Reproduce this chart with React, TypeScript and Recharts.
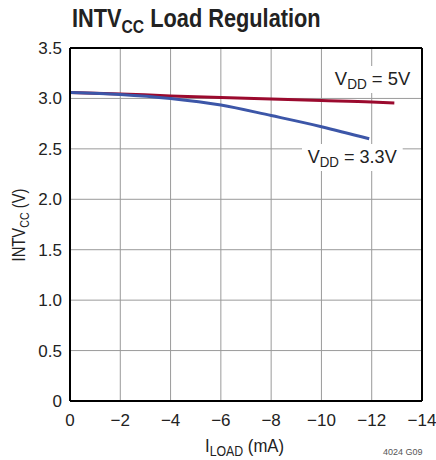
import {
  LineChart,
  Line,
  XAxis,
  YAxis,
  CartesianGrid,
  ReferenceLine,
} from "recharts"

const xTicks = [0, -2, -4, -6, -8, -10, -12, -14]
const yTicks = [0, 0.5, 1, 1.5, 2, 2.5, 3, 3.5]

const loadVdd5 = [0, -2, -4, -6, -8, -10, -12, -12.9]
const voutVdd5 = [3.06, 3.045, 3.025, 3.01, 2.995, 2.98, 2.965, 2.955]

const loadVdd33 = [0, -2, -4, -6, -8, -10, -11.9]
const voutVdd33 = [3.06, 3.04, 3.0, 2.935, 2.83, 2.72, 2.6]

const vdd5 = loadVdd5.map((x, i) => ({ x, v: voutVdd5[i] }))
const vdd33 = loadVdd33.map((x, i) => ({ x, v: voutVdd33[i] }))

const font = "'Liberation Sans', Arial, sans-serif"

const fmtX = (v: number) => (v === 0 ? "0" : "\u2212" + Math.abs(v))
const fmtY = (v: number) => (v === 0 ? "0" : v.toFixed(1))

const txt = (left: number, top: number, size: number, sx: number) => ({
  position: "absolute" as const,
  left,
  top,
  fontSize: size,
  color: "#222",
  lineHeight: 1,
  whiteSpace: "nowrap" as const,
  transform: `scaleX(${sx})`,
  transformOrigin: "left top",
})

const sub = (size: number, drop: number) => ({
  fontSize: size,
  verticalAlign: `-${drop}px`,
  lineHeight: 0,
})

function App() {
  return (
    <div
      style={{
        position: "absolute",
        left: 0,
        top: 0,
        width: 436,
        height: 460,
        background: "#fff",
        fontFamily: font,
        overflow: "hidden",
      }}
    >
      <LineChart
        width={436}
        height={460}
        margin={{ top: 48, right: 14, bottom: 9, left: 0 }}
      >
        <CartesianGrid
          stroke="#9a9a9a"
          strokeWidth={1}
          horizontalValues={yTicks}
          verticalValues={xTicks}
        />
        <XAxis
          dataKey="x"
          type="number"
          domain={[-14, 0]}
          reversed
          ticks={xTicks}
          tickFormatter={fmtX}
          interval={0}
          height={50}
          tickSize={0}
          tickMargin={13}
          axisLine={{ stroke: "#000", strokeWidth: 2 }}
          tick={{ fill: "#222", fontSize: 17, fontFamily: font }}
          allowDataOverflow
        />
        <YAxis
          type="number"
          domain={[0, 3.5]}
          ticks={yTicks}
          tickFormatter={fmtY}
          interval={0}
          width={70}
          tickSize={0}
          tickMargin={8}
          axisLine={{ stroke: "#000", strokeWidth: 2 }}
          tick={{ fill: "#222", fontSize: 17, fontFamily: font }}
        />
        <ReferenceLine y={3.5} stroke="#000" strokeWidth={2} />
        <ReferenceLine x={-14} stroke="#000" strokeWidth={2} />
        <Line
          data={vdd5}
          dataKey="v"
          stroke="#9b0a2e"
          strokeWidth={3}
          dot={false}
          type="monotone"
          isAnimationActive={false}
        />
        <Line
          data={vdd33}
          dataKey="v"
          stroke="#3c56a8"
          strokeWidth={3}
          dot={false}
          type="monotone"
          isAnimationActive={false}
        />
      </LineChart>

      <div style={{ ...txt(72, 6, 25, 0.87), fontWeight: "bold" }}>
        INTV<sub style={sub(18, 6)}>CC</sub> Load Regulation
      </div>

      <div
        style={{
          ...txt(329, 66, 19, 0.97),
          background: "#fff",
          padding: "3px 6px 5px",
        }}
      >
        V<sub style={sub(14, 4)}>DD</sub> = 5V
      </div>

      <div
        style={{
          ...txt(302, 144, 19, 0.95),
          background: "#fff",
          padding: "3px 6px 5px",
        }}
      >
        V<sub style={sub(14, 4)}>DD</sub> = 3.3V
      </div>

      <div style={txt(205, 436, 19, 0.88)}>
        I<sub style={sub(14, 4)}>LOAD</sub> (mA)
      </div>

      <div
        style={{
          position: "absolute",
          left: 19,
          top: 225,
          transform: "translate(-50%, -50%) rotate(-90deg) scaleX(0.82)",
          fontSize: 18,
          color: "#222",
          lineHeight: 1,
          whiteSpace: "nowrap",
        }}
      >
        INTV<sub style={sub(13, 4)}>CC</sub> (V)
      </div>

      <div style={{ ...txt(383, 448, 9, 1), color: "#555" }}>4024 G09</div>
    </div>
  )
}

export default App
